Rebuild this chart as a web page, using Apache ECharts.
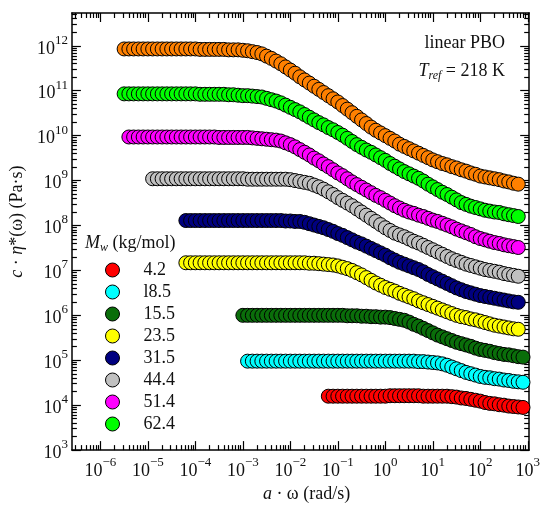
<!DOCTYPE html>
<html>
<head>
<meta charset="utf-8">
<script src="https://cdn.jsdelivr.net/npm/echarts@6/dist/echarts.min.js"></script>
<style>
  html, body { margin: 0; padding: 0; background: #fff; }
  #chart { width: 543px; height: 508px; }
</style>
</head>
<body>
<div id="chart"></div>
<script>
// values as [log10(a*w), log10(c*eta*)]
const sOrange = [[-5.5,11.93],[-5.4,11.93],[-5.3,11.93],[-5.2,11.93],[-5.1,11.93],[-5.0,11.93],[-4.9,11.93],[-4.8,11.93],[-4.7,11.93],[-4.6,11.93],[-4.5,11.93],[-4.4,11.93],[-4.3,11.93],[-4.2,11.93],[-4.1,11.93],[-4.0,11.93],[-3.9,11.92],[-3.8,11.92],[-3.7,11.92],[-3.6,11.92],[-3.5,11.92],[-3.4,11.92],[-3.3,11.91],[-3.2,11.91],[-3.1,11.91],[-3.0,11.90],[-2.9,11.89],[-2.8,11.87],[-2.7,11.85],[-2.6,11.82],[-2.5,11.77],[-2.4,11.72],[-2.3,11.66],[-2.2,11.60],[-2.1,11.53],[-2.0,11.46],[-1.9,11.39],[-1.8,11.31],[-1.7,11.24],[-1.6,11.17],[-1.5,11.10],[-1.4,11.03],[-1.3,10.96],[-1.2,10.89],[-1.1,10.82],[-1.0,10.75],[-0.9,10.67],[-0.8,10.59],[-0.7,10.51],[-0.6,10.43],[-0.5,10.35],[-0.4,10.27],[-0.3,10.19],[-0.2,10.12],[-0.1,10.06],[0.0,10.00],[0.1,9.94],[0.2,9.88],[0.3,9.81],[0.4,9.76],[0.5,9.71],[0.6,9.66],[0.7,9.61],[0.8,9.56],[0.9,9.51],[1.0,9.46],[1.1,9.42],[1.2,9.38],[1.3,9.35],[1.4,9.31],[1.5,9.28],[1.6,9.24],[1.7,9.21],[1.8,9.17],[1.9,9.14],[2.0,9.10],[2.1,9.08],[2.2,9.06],[2.3,9.04],[2.4,9.02],[2.5,8.99],[2.6,8.97],[2.7,8.94],[2.8,8.92]];
const sLime = [[-5.5,10.93],[-5.4,10.93],[-5.3,10.93],[-5.2,10.93],[-5.1,10.93],[-5.0,10.93],[-4.9,10.93],[-4.8,10.93],[-4.7,10.93],[-4.6,10.93],[-4.5,10.93],[-4.4,10.93],[-4.3,10.93],[-4.2,10.93],[-4.1,10.93],[-4.0,10.93],[-3.9,10.92],[-3.8,10.92],[-3.7,10.92],[-3.6,10.92],[-3.5,10.92],[-3.4,10.92],[-3.3,10.91],[-3.2,10.91],[-3.1,10.90],[-3.0,10.89],[-2.9,10.89],[-2.8,10.88],[-2.7,10.87],[-2.6,10.86],[-2.5,10.83],[-2.4,10.80],[-2.3,10.77],[-2.2,10.73],[-2.1,10.68],[-2.0,10.63],[-1.9,10.58],[-1.8,10.53],[-1.7,10.47],[-1.6,10.41],[-1.5,10.35],[-1.4,10.29],[-1.3,10.24],[-1.2,10.18],[-1.1,10.13],[-1.0,10.07],[-0.9,10.01],[-0.8,9.94],[-0.7,9.87],[-0.6,9.80],[-0.5,9.74],[-0.4,9.68],[-0.3,9.63],[-0.2,9.57],[-0.1,9.51],[0.0,9.45],[0.1,9.38],[0.2,9.32],[0.3,9.26],[0.4,9.20],[0.5,9.15],[0.6,9.10],[0.7,9.05],[0.8,8.99],[0.9,8.92],[1.0,8.86],[1.1,8.80],[1.2,8.74],[1.3,8.69],[1.4,8.63],[1.5,8.57],[1.6,8.51],[1.7,8.47],[1.8,8.43],[1.9,8.40],[2.0,8.37],[2.1,8.34],[2.2,8.32],[2.3,8.30],[2.4,8.29],[2.5,8.26],[2.6,8.24],[2.7,8.22],[2.8,8.20]];
const sMagenta = [[-5.4,9.97],[-5.3,9.97],[-5.2,9.97],[-5.1,9.97],[-5.0,9.97],[-4.9,9.97],[-4.8,9.97],[-4.7,9.97],[-4.6,9.97],[-4.5,9.97],[-4.4,9.97],[-4.3,9.97],[-4.2,9.97],[-4.1,9.97],[-4.0,9.97],[-3.9,9.97],[-3.8,9.97],[-3.7,9.97],[-3.6,9.97],[-3.5,9.96],[-3.4,9.96],[-3.3,9.96],[-3.2,9.96],[-3.1,9.96],[-3.0,9.96],[-2.9,9.96],[-2.8,9.95],[-2.7,9.94],[-2.6,9.93],[-2.5,9.92],[-2.4,9.91],[-2.3,9.90],[-2.2,9.88],[-2.1,9.84],[-2.0,9.80],[-1.9,9.75],[-1.8,9.69],[-1.7,9.63],[-1.6,9.57],[-1.5,9.50],[-1.4,9.44],[-1.3,9.37],[-1.2,9.31],[-1.1,9.24],[-1.0,9.17],[-0.9,9.11],[-0.8,9.04],[-0.7,8.97],[-0.6,8.91],[-0.5,8.85],[-0.4,8.79],[-0.3,8.73],[-0.2,8.67],[-0.1,8.62],[0.0,8.56],[0.1,8.50],[0.2,8.44],[0.3,8.39],[0.4,8.34],[0.5,8.30],[0.6,8.27],[0.7,8.23],[0.8,8.20],[0.9,8.16],[1.0,8.12],[1.1,8.09],[1.2,8.05],[1.3,8.01],[1.4,7.97],[1.5,7.92],[1.6,7.88],[1.7,7.84],[1.8,7.80],[1.9,7.75],[2.0,7.71],[2.1,7.68],[2.2,7.65],[2.3,7.62],[2.4,7.60],[2.5,7.57],[2.6,7.55],[2.7,7.53],[2.8,7.51]];
const sGray = [[-4.9,9.04],[-4.8,9.04],[-4.7,9.04],[-4.6,9.04],[-4.5,9.04],[-4.4,9.04],[-4.3,9.04],[-4.2,9.04],[-4.1,9.04],[-4.0,9.04],[-3.9,9.04],[-3.8,9.04],[-3.7,9.04],[-3.6,9.04],[-3.5,9.04],[-3.4,9.04],[-3.3,9.04],[-3.2,9.04],[-3.1,9.04],[-3.0,9.04],[-2.9,9.03],[-2.8,9.03],[-2.7,9.03],[-2.6,9.03],[-2.5,9.03],[-2.4,9.03],[-2.3,9.03],[-2.2,9.03],[-2.1,9.03],[-2.0,9.02],[-1.9,9.00],[-1.8,8.98],[-1.7,8.96],[-1.6,8.94],[-1.5,8.90],[-1.4,8.86],[-1.3,8.81],[-1.2,8.75],[-1.1,8.69],[-1.0,8.62],[-0.9,8.56],[-0.8,8.50],[-0.7,8.44],[-0.6,8.37],[-0.5,8.30],[-0.4,8.23],[-0.3,8.16],[-0.2,8.09],[-0.1,8.02],[0.0,7.95],[0.1,7.89],[0.2,7.83],[0.3,7.79],[0.4,7.75],[0.5,7.70],[0.6,7.65],[0.7,7.61],[0.8,7.56],[0.9,7.51],[1.0,7.46],[1.1,7.41],[1.2,7.36],[1.3,7.31],[1.4,7.26],[1.5,7.22],[1.6,7.18],[1.7,7.14],[1.8,7.11],[1.9,7.08],[2.0,7.05],[2.1,7.02],[2.2,7.00],[2.3,6.98],[2.4,6.96],[2.5,6.93],[2.6,6.91],[2.7,6.89],[2.8,6.87]];
const sNavy = [[-4.2,8.11],[-4.1,8.11],[-4.0,8.11],[-3.9,8.11],[-3.8,8.11],[-3.7,8.11],[-3.6,8.11],[-3.5,8.11],[-3.4,8.11],[-3.3,8.11],[-3.2,8.11],[-3.1,8.11],[-3.0,8.11],[-2.9,8.11],[-2.8,8.11],[-2.7,8.11],[-2.6,8.11],[-2.5,8.11],[-2.4,8.11],[-2.3,8.11],[-2.2,8.11],[-2.1,8.10],[-2.0,8.10],[-1.9,8.09],[-1.8,8.09],[-1.7,8.07],[-1.6,8.04],[-1.5,8.01],[-1.4,7.98],[-1.3,7.95],[-1.2,7.91],[-1.1,7.87],[-1.0,7.82],[-0.9,7.78],[-0.8,7.73],[-0.7,7.68],[-0.6,7.63],[-0.5,7.59],[-0.4,7.54],[-0.3,7.49],[-0.2,7.44],[-0.1,7.39],[0.0,7.34],[0.1,7.28],[0.2,7.23],[0.3,7.18],[0.4,7.14],[0.5,7.10],[0.6,7.06],[0.7,7.02],[0.8,6.97],[0.9,6.91],[1.0,6.86],[1.1,6.81],[1.2,6.76],[1.3,6.71],[1.4,6.66],[1.5,6.61],[1.6,6.57],[1.7,6.53],[1.8,6.50],[1.9,6.47],[2.0,6.44],[2.1,6.42],[2.2,6.40],[2.3,6.38],[2.4,6.36],[2.5,6.34],[2.6,6.32],[2.7,6.30],[2.8,6.29]];
const sYellow = [[-4.2,7.17],[-4.1,7.17],[-4.0,7.17],[-3.9,7.17],[-3.8,7.17],[-3.7,7.17],[-3.6,7.17],[-3.5,7.17],[-3.4,7.17],[-3.3,7.17],[-3.2,7.17],[-3.1,7.17],[-3.0,7.17],[-2.9,7.17],[-2.8,7.17],[-2.7,7.17],[-2.6,7.17],[-2.5,7.17],[-2.4,7.17],[-2.3,7.17],[-2.2,7.17],[-2.1,7.17],[-2.0,7.17],[-1.9,7.17],[-1.8,7.17],[-1.7,7.17],[-1.6,7.16],[-1.5,7.16],[-1.4,7.15],[-1.3,7.14],[-1.2,7.13],[-1.1,7.12],[-1.0,7.10],[-0.9,7.07],[-0.8,7.04],[-0.7,7.00],[-0.6,6.95],[-0.5,6.90],[-0.4,6.84],[-0.3,6.78],[-0.2,6.72],[-0.1,6.67],[0.0,6.62],[0.1,6.58],[0.2,6.54],[0.3,6.49],[0.4,6.45],[0.5,6.41],[0.6,6.37],[0.7,6.32],[0.8,6.28],[0.9,6.24],[1.0,6.20],[1.1,6.16],[1.2,6.12],[1.3,6.08],[1.4,6.04],[1.5,6.00],[1.6,5.97],[1.7,5.95],[1.8,5.92],[1.9,5.90],[2.0,5.87],[2.1,5.84],[2.2,5.81],[2.3,5.78],[2.4,5.76],[2.5,5.74],[2.6,5.72],[2.7,5.70],[2.8,5.69]];
const sDkGreen = [[-3.0,6.00],[-2.9,6.00],[-2.8,6.00],[-2.7,6.00],[-2.6,6.00],[-2.5,6.00],[-2.4,6.00],[-2.3,6.00],[-2.2,6.00],[-2.1,6.00],[-2.0,6.00],[-1.9,6.00],[-1.8,6.00],[-1.7,6.00],[-1.6,6.00],[-1.5,6.00],[-1.4,6.00],[-1.3,6.00],[-1.2,6.00],[-1.1,6.00],[-1.0,6.00],[-0.9,6.00],[-0.8,5.99],[-0.7,5.99],[-0.6,5.99],[-0.5,5.98],[-0.4,5.98],[-0.3,5.97],[-0.2,5.97],[-0.1,5.96],[0.0,5.96],[0.1,5.95],[0.2,5.93],[0.3,5.91],[0.4,5.89],[0.5,5.85],[0.6,5.80],[0.7,5.76],[0.8,5.71],[0.9,5.66],[1.0,5.61],[1.1,5.56],[1.2,5.52],[1.3,5.48],[1.4,5.44],[1.5,5.40],[1.6,5.37],[1.7,5.34],[1.8,5.31],[1.9,5.27],[2.0,5.24],[2.1,5.22],[2.2,5.20],[2.3,5.17],[2.4,5.15],[2.5,5.13],[2.6,5.12],[2.7,5.10],[2.8,5.08],[2.9,5.07]];
const sCyan = [[-2.9,4.98],[-2.8,4.98],[-2.7,4.98],[-2.6,4.98],[-2.5,4.98],[-2.4,4.98],[-2.3,4.98],[-2.2,4.98],[-2.1,4.98],[-2.0,4.98],[-1.9,4.98],[-1.8,4.98],[-1.7,4.98],[-1.6,4.98],[-1.5,4.98],[-1.4,4.98],[-1.3,4.98],[-1.2,4.98],[-1.1,4.98],[-1.0,4.98],[-0.9,4.98],[-0.8,4.98],[-0.7,4.98],[-0.6,4.98],[-0.5,4.98],[-0.4,4.98],[-0.3,4.98],[-0.2,4.98],[-0.1,4.98],[0.0,4.98],[0.1,4.98],[0.2,4.98],[0.3,4.98],[0.4,4.98],[0.5,4.98],[0.6,4.98],[0.7,4.97],[0.8,4.97],[0.9,4.96],[1.0,4.95],[1.1,4.94],[1.2,4.92],[1.3,4.89],[1.4,4.85],[1.5,4.81],[1.6,4.77],[1.7,4.73],[1.8,4.70],[1.9,4.67],[2.0,4.64],[2.1,4.62],[2.2,4.61],[2.3,4.59],[2.4,4.58],[2.5,4.56],[2.6,4.55],[2.7,4.53],[2.8,4.52],[2.9,4.51]];
const sRed = [[-1.2,4.20],[-1.1,4.20],[-1.0,4.20],[-0.9,4.20],[-0.8,4.20],[-0.7,4.20],[-0.6,4.20],[-0.5,4.20],[-0.4,4.20],[-0.3,4.20],[-0.2,4.20],[-0.1,4.20],[0.0,4.20],[0.1,4.21],[0.2,4.21],[0.3,4.21],[0.4,4.21],[0.5,4.21],[0.6,4.21],[0.7,4.21],[0.8,4.20],[0.9,4.20],[1.0,4.20],[1.1,4.20],[1.2,4.20],[1.3,4.20],[1.4,4.19],[1.5,4.18],[1.6,4.16],[1.7,4.15],[1.8,4.13],[1.9,4.11],[2.0,4.09],[2.1,4.06],[2.2,4.04],[2.3,4.03],[2.4,4.01],[2.5,4.00],[2.6,3.98],[2.7,3.97],[2.8,3.96],[2.9,3.95]];

const mwLabels = ['4.2', 'l8.5', '15.5', '23.5', '31.5', '44.4', '51.4', '62.4'];
const mwColors = ['#ff0000', '#00ffff', '#0a6e0a', '#ffff00', '#000080', '#c0c0c0', '#ff00ff', '#00ff00'];
const mwData = [sRed, sCyan, sDkGreen, sYellow, sNavy, sGray, sMagenta, sLime];

const xMajor = [-6, -5, -4, -3, -2, -1, 0, 1, 2, 3];
const yMajor = [3, 4, 5, 6, 7, 8, 9, 10, 11, 12];
const xRange = [-6.6, 3.03];
const yRange = [3, 12.73];

const FONT = '"Liberation Serif", "DejaVu Serif", serif';

function minorTicks(range) {
  const out = [];
  for (let n = Math.floor(range[0]); n <= Math.ceil(range[1]); n++) {
    for (let k = 2; k <= 9; k++) {
      const v = n + Math.log10(k);
      if (v > range[0] && v < range[1]) out.push(v);
    }
  }
  return out;
}

function expLabel(v) {
  const e = Math.round(v);
  return '{b|10}{s|' + (e < 0 ? '\u2212' + (-e) : e) + '}';
}

const labelRich = {
  b: { fontFamily: FONT, fontSize: 18, color: '#111', lineHeight: 24, verticalAlign: 'bottom' },
  s: { fontFamily: FONT, fontSize: 13, color: '#111', lineHeight: 13, verticalAlign: 'top' }
};

function makeAxis(dim, pos, range, major, isMinor, withLabel) {
  const ax = {
    type: 'value',
    position: pos,
    min: range[0],
    max: range[1],
    gridIndex: 0,
    splitLine: { show: false },
    axisLine: { show: !isMinor, onZero: false, lineStyle: { color: '#000', width: 1.5 } },
    axisTick: {
      show: true, inside: true,
      length: isMinor ? 5 : 9,
      customValues: isMinor ? minorTicks(range) : major,
      lineStyle: { color: '#000', width: 1.2 }
    },
    axisLabel: { show: false },
    axisPointer: { show: false }
  };
  if (withLabel) {
    ax.axisLabel = {
      show: true,
      customValues: major,
      formatter: expLabel,
      rich: labelRich,
      margin: dim === 'x' ? 6 : 4
    };
  }
  return ax;
}

const xAxes = [
  makeAxis('x', 'bottom', xRange, xMajor, false, true),
  makeAxis('x', 'bottom', xRange, xMajor, true, false),
  makeAxis('x', 'top', xRange, xMajor, false, false),
  makeAxis('x', 'top', xRange, xMajor, true, false)
];
xAxes[0].name = '{i|a} \u00b7 \u03c9 (rad/s)';
xAxes[0].nameLocation = 'middle';
xAxes[0].nameGap = 33;
xAxes[0].nameTextStyle = {
  fontFamily: FONT, fontSize: 18, color: '#111', padding: [0, 0, 0, 12],
  rich: { i: { fontFamily: FONT, fontSize: 18, fontStyle: 'italic', color: '#111' } }
};

const yAxes = [
  makeAxis('y', 'left', yRange, yMajor, false, true),
  makeAxis('y', 'left', yRange, yMajor, true, false),
  makeAxis('y', 'right', yRange, yMajor, false, false),
  makeAxis('y', 'right', yRange, yMajor, true, false)
];
yAxes[0].name = '{i|c} \u00b7 {i|\u03b7}*(\u03c9) (Pa\u00b7s)';
yAxes[0].nameLocation = 'middle';
yAxes[0].nameGap = 44;
yAxes[0].nameTextStyle = {
  fontFamily: FONT, fontSize: 18, color: '#111', padding: [0, 0, 0, 20],
  rich: { i: { fontFamily: FONT, fontSize: 18, fontStyle: 'italic', color: '#111' } }
};

function scatter(name, data, color) {
  return {
    name: name,
    type: 'scatter',
    xAxisIndex: 0,
    yAxisIndex: 0,
    data: data,
    symbol: 'circle',
    symbolSize: 14,
    clip: true,
    itemStyle: { color: color, borderColor: '#000', borderWidth: 1, opacity: 1 },
    emphasis: { disabled: true }
  };
}

const series = [scatter('top', sOrange, '#ff8000')];
for (let i = 0; i < mwLabels.length; i++) {
  series.push(scatter(mwLabels[i], mwData[i], mwColors[i]));
}

const chart = echarts.init(document.getElementById('chart'), null, { renderer: 'canvas' });
chart.setOption({
  animation: false,
  backgroundColor: '#fff',
  grid: { left: 71, right: 13, top: 13, bottom: 57 },
  xAxis: xAxes,
  yAxis: yAxes,
  legend: {
    data: mwLabels,
    orient: 'vertical',
    left: 105,
    top: 261,
    padding: 0,
    itemWidth: 14,
    itemHeight: 14,
    itemGap: 4,
    icon: 'circle',
    selectedMode: false,
    itemStyle: { borderColor: '#000', borderWidth: 1 },
    textStyle: { fontFamily: FONT, fontSize: 18, lineHeight: 18, color: '#111', padding: [0, 0, 0, 19] }
  },
  graphic: [
    {
      type: 'text', x: 505, y: 43,
      style: { text: 'linear PBO', align: 'right', verticalAlign: 'middle', fontFamily: FONT, fontSize: 18, fill: '#111' }
    },
    {
      type: 'text', x: 505, y: 72,
      style: {
        text: '{i|T}{sub|ref}{n| = 218 K}', align: 'right', verticalAlign: 'middle',
        fontFamily: FONT, fontSize: 18, fill: '#111',
        rich: {
          i: { fontFamily: FONT, fontSize: 18, fontStyle: 'italic', fill: '#111', lineHeight: 20, verticalAlign: 'top' },
          sub: { fontFamily: FONT, fontSize: 12, fontStyle: 'italic', fill: '#111', lineHeight: 12, verticalAlign: 'bottom' },
          n: { fontFamily: FONT, fontSize: 18, fill: '#111', lineHeight: 20, verticalAlign: 'top' }
        }
      }
    },
    {
      type: 'text', x: 85, y: 244,
      style: {
        text: '{i|M}{sub|w}{n| (kg/mol)}', align: 'left', verticalAlign: 'middle',
        fontFamily: FONT, fontSize: 18, fill: '#111',
        rich: {
          i: { fontFamily: FONT, fontSize: 18, fontStyle: 'italic', fill: '#111', lineHeight: 20, verticalAlign: 'top' },
          sub: { fontFamily: FONT, fontSize: 12, fontStyle: 'italic', fill: '#111', lineHeight: 12, verticalAlign: 'bottom' },
          n: { fontFamily: FONT, fontSize: 18, fill: '#111', lineHeight: 20, verticalAlign: 'top' }
        }
      }
    }
  ],
  series: series
});
</script>
</body>
</html>
